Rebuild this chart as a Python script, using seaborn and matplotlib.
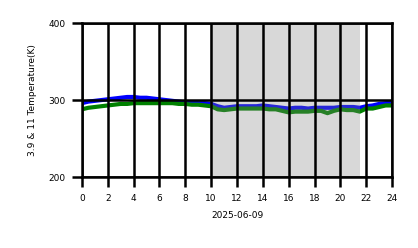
import matplotlib
matplotlib.use("Agg")
import matplotlib.pyplot as plt
import seaborn as sns
import numpy as np
import pandas as pd

hours = [i * 0.5 for i in range(49)]
t39 = [296, 298, 299, 300, 301, 302, 303, 304, 304, 303, 303, 302, 301, 300, 299, 298,
       297, 297, 296, 296, 295, 292, 290, 291, 292, 292, 292, 292, 293, 292, 291, 290,
       289, 290, 290, 289, 290, 290, 290, 290, 291, 291, 291, 290, 292, 293, 295, 296, 297]
t11 = [288, 290, 291, 292, 293, 294, 295, 295, 296, 296, 296, 296, 296, 296, 296, 295,
       295, 294, 294, 293, 292, 288, 287, 288, 289, 289, 289, 289, 289, 288, 288, 286,
       284, 285, 285, 285, 286, 286, 283, 286, 288, 287, 287, 285, 289, 289, 291, 293, 293]
night_start, night_end = 9.88, 21.53
xticks = list(range(0, 25, 2))
yticks = [200, 300, 400]

sns.set_style("white")
plt.rcParams['font.family'] = ['DejaVu Sans']
plt.rcParams['text.color'] = 'black'
plt.rcParams['axes.labelcolor'] = 'black'
plt.rcParams['xtick.color'] = 'black'
plt.rcParams['ytick.color'] = 'black'

fig = plt.figure(figsize=(4.18, 2.48), dpi=100)
ax = fig.add_axes([0.196, 0.286, 0.742, 0.621])

df = pd.DataFrame({"h": hours, "b": t39, "g": t11})
sns.lineplot(data=df, x="h", y="b", color="blue", linewidth=3.0, ax=ax, zorder=2)
sns.lineplot(data=df, x="h", y="g", color="green", linewidth=3.0, ax=ax, zorder=2.1)
ax.axvspan(night_start, night_end, color="gray", alpha=0.3, linewidth=0, zorder=2.2)

ax.set_xlim(0, 24)
ax.set_ylim(200, 400)
ax.set_xticks(xticks)
ax.set_yticks(yticks)
ax.set_axisbelow(False)
ax.grid(True, color="black", linewidth=1.8)
for sp in ax.spines.values():
    sp.set_color("black")
    sp.set_linewidth(1.8)
    sp.set_zorder(5)
ax.tick_params(axis="both", direction="out", length=7, width=1.8, color="black",
               labelcolor="black", labelsize=6.5, pad=5, bottom=True, left=True)
ax.set_xlabel("2025-06-09", fontsize=6.5, labelpad=6, color="black")
ax.set_ylabel("3.9 & 11 Temperature(K)", fontsize=6.5, labelpad=8, color="black")

fig.savefig("out.png", dpi=100)
